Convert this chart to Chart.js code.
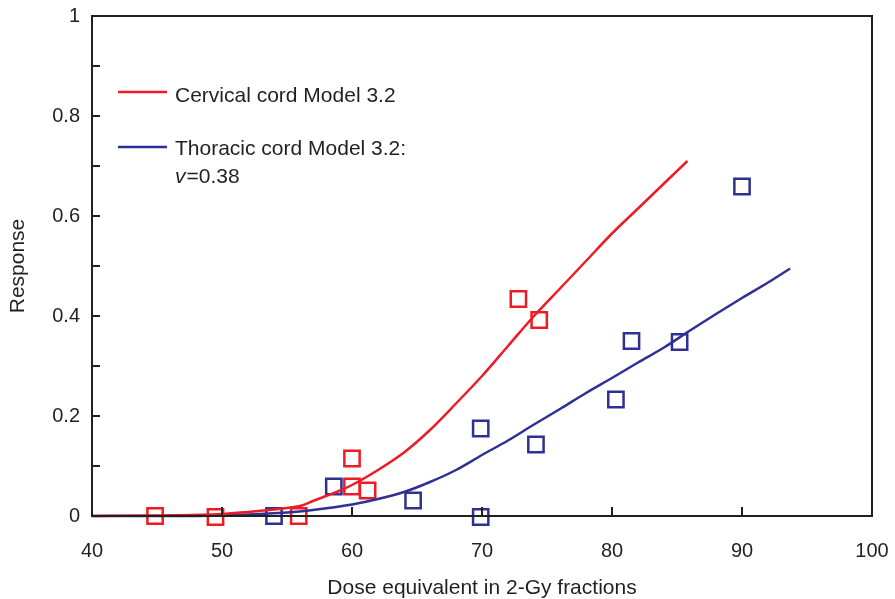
<!DOCTYPE html>
<html>
<head>
<meta charset="utf-8">
<script src="https://cdn.jsdelivr.net/npm/chart.js@4/dist/chart.umd.min.js"></script>
<style>
  body { margin: 0; background: #fff; }
  #wrap { width: 895px; height: 599px; position: relative; }
</style>
</head>
<body>
<div id="wrap"><canvas id="doseChart"></canvas></div>
<script>
// model curves
var cervicalCurveX = [40, 45, 50, 52, 54, 55, 56, 57, 58, 59, 60, 62, 64, 66, 68, 70, 72, 74, 76, 78, 80, 82, 84, 85.8];
var cervicalCurveY = [0, 0.001, 0.004, 0.008, 0.013, 0.016, 0.02, 0.03, 0.04, 0.05, 0.062, 0.092, 0.127, 0.172, 0.225, 0.28, 0.34, 0.4, 0.455, 0.51, 0.565, 0.615, 0.665, 0.71];
var thoracicCurveX = [40, 45, 50, 55, 57, 60, 62, 64, 66, 68, 70, 72, 74, 76, 78, 80, 82, 84, 86, 88, 90, 92, 93.7];
var thoracicCurveY = [0, 0, 0.001, 0.007, 0.012, 0.023, 0.034, 0.048, 0.068, 0.092, 0.122, 0.151, 0.183, 0.214, 0.246, 0.276, 0.307, 0.337, 0.371, 0.404, 0.436, 0.467, 0.495];

// observed data (squares)
var cervicalObsX = [44.85, 49.5, 55.9, 60.0, 60.0, 61.2, 72.8, 74.4];
var cervicalObsY = [0, -0.002, 0, 0.115, 0.059, 0.051, 0.434, 0.392];
var thoracicObsX = [54.0, 58.6, 64.7, 69.9, 69.9, 74.15, 80.3, 81.5, 85.2, 90.0];
var thoracicObsY = [0, 0.059, 0.031, -0.002, 0.175, 0.143, 0.233, 0.35, 0.348, 0.659];

var xTicks = [40, 50, 60, 70, 80, 90, 100];
var yTicks = [0, 0.1, 0.2, 0.3, 0.4, 0.5, 0.6, 0.7, 0.8, 0.9, 1];

var RED = '#ED1C24';
var BLUE = '#2E3192';
var INK = '#231F20';

function pts(xs, ys) {
  return xs.map(function (x, i) { return { x: x, y: ys[i] }; });
}

// box around plot, inward ticks, legend text inside the plot
var framePlugin = {
  id: 'frame',
  afterDraw: function (chart) {
    var ctx = chart.ctx;
    var a = chart.chartArea;
    var xs = chart.scales.x, ys = chart.scales.y;
    ctx.save();
    ctx.strokeStyle = INK;
    ctx.lineWidth = 2;
    ctx.strokeRect(a.left, a.top, a.right - a.left, a.bottom - a.top);
    ctx.beginPath();
    xTicks.forEach(function (v) {
      if (v === xs.min || v === xs.max) return;
      var px = Math.round(xs.getPixelForValue(v));
      ctx.moveTo(px, a.bottom);
      ctx.lineTo(px, a.bottom - 9);
    });
    yTicks.forEach(function (v) {
      if (v === ys.min || v === ys.max) return;
      var py = Math.round(ys.getPixelForValue(v));
      ctx.moveTo(a.left, py);
      ctx.lineTo(a.left + 8, py);
    });
    ctx.stroke();

    // legend
    ctx.lineWidth = 2.5;
    ctx.strokeStyle = RED;
    ctx.beginPath(); ctx.moveTo(118, 92); ctx.lineTo(167, 92); ctx.stroke();
    ctx.strokeStyle = BLUE;
    ctx.beginPath(); ctx.moveTo(118, 147); ctx.lineTo(167, 147); ctx.stroke();
    ctx.fillStyle = INK;
    ctx.textBaseline = 'alphabetic';
    ctx.textAlign = 'left';
    ctx.font = '21px "Liberation Sans", Arial, sans-serif';
    ctx.fillText('Cervical cord Model 3.2', 175, 102);
    ctx.fillText('Thoracic cord Model 3.2:', 175, 155);
    ctx.font = 'italic 21px "Liberation Sans", Arial, sans-serif';
    ctx.fillText('v', 175, 183);
    var vw = ctx.measureText('v').width;
    ctx.font = '21px "Liberation Sans", Arial, sans-serif';
    ctx.fillText('=0.38', 175 + vw + 1, 183);
    ctx.restore();
  }
};

new Chart(document.getElementById('doseChart'), {
  type: 'scatter',
  plugins: [framePlugin],
  data: {
    datasets: [
      {
        label: 'Cervical cord Model 3.2',
        data: pts(cervicalCurveX, cervicalCurveY),
        showLine: true,
        borderColor: RED,
        borderWidth: 2.5,
        pointRadius: 0,
        cubicInterpolationMode: 'monotone',
        clip: false
      },
      {
        label: 'Thoracic cord Model 3.2',
        data: pts(thoracicCurveX, thoracicCurveY),
        showLine: true,
        borderColor: BLUE,
        borderWidth: 2.5,
        pointRadius: 0,
        cubicInterpolationMode: 'monotone',
        clip: false
      },
      {
        label: 'Cervical data',
        data: pts(cervicalObsX, cervicalObsY),
        pointStyle: 'rect',
        pointRadius: 10.8,
        borderWidth: 2.5,
        borderColor: RED,
        backgroundColor: 'rgba(0,0,0,0)',
        clip: false
      },
      {
        label: 'Thoracic data',
        data: pts(thoracicObsX, thoracicObsY),
        pointStyle: 'rect',
        pointRadius: 10.8,
        borderWidth: 2.5,
        borderColor: BLUE,
        backgroundColor: 'rgba(0,0,0,0)',
        clip: false
      }
    ]
  },
  options: {
    responsive: true,
    maintainAspectRatio: false,
    animation: false,
    layout: { padding: { top: 16, right: 23, left: 0, bottom: 0 } },
    plugins: {
      legend: { display: false },
      tooltip: { enabled: false }
    },
    scales: {
      x: {
        type: 'linear',
        min: 40,
        max: 100,
        afterFit: function (scale) {
          scale.height = 83;
          scale.paddingLeft = 0;
          scale.paddingRight = 0;
        },
        afterBuildTicks: function (scale) {
          scale.ticks = xTicks.map(function (v) { return { value: v }; });
        },
        grid: { display: false, drawTicks: false },
        border: { display: false },
        ticks: {
          color: INK,
          padding: 23,
          maxRotation: 0,
          font: { family: '"Liberation Sans", Arial, sans-serif', size: 20 }
        },
        title: {
          display: true,
          text: 'Dose equivalent in 2-Gy fractions',
          color: INK,
          padding: 0,
          font: { family: '"Liberation Sans", Arial, sans-serif', size: 21, lineHeight: 1 }
        }
      },
      y: {
        type: 'linear',
        min: 0,
        max: 1,
        afterFit: function (scale) {
          scale.width = 92;
          scale.paddingTop = 0;
          scale.paddingBottom = 0;
        },
        afterBuildTicks: function (scale) {
          scale.ticks = yTicks.map(function (v) { return { value: v }; });
        },
        grid: { display: false, drawTicks: false },
        border: { display: false },
        ticks: {
          color: INK,
          padding: 12,
          font: { family: '"Liberation Sans", Arial, sans-serif', size: 20 },
          callback: function (v) {
            var k = Math.round(v * 10);
            return k % 2 === 0 ? String(k / 10) : '';
          }
        },
        title: {
          display: true,
          text: 'Response',
          color: INK,
          padding: { top: 8 },
          font: { family: '"Liberation Sans", Arial, sans-serif', size: 21, lineHeight: 1 }
        }
      }
    }
  }
});
</script>
</body>
</html>
